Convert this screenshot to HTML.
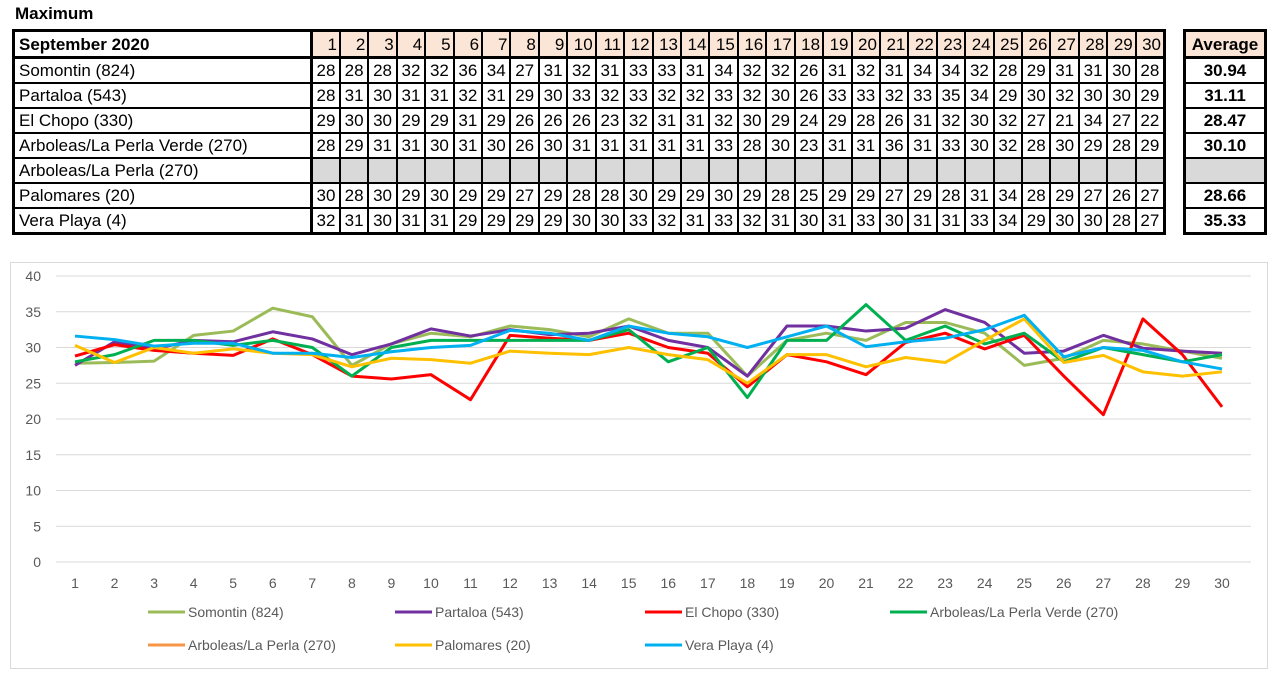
<!DOCTYPE html>
<html><head><meta charset="utf-8"><style>
body{margin:0;width:1280px;height:679px;background:#fff;font-family:"Liberation Sans",sans-serif;position:relative;overflow:hidden}
#title{position:absolute;left:15px;top:4px;font-weight:bold;font-size:17px}
table{position:absolute;border-collapse:collapse;table-layout:fixed;border:3px solid #000;font-size:17px}
td{border:2px solid #000;padding:0;height:23px;line-height:23px;text-align:center;overflow:hidden;white-space:nowrap}
td.lab{text-align:left;padding-left:4px;border-right:3px solid #000}
tr.hd td{background:#fbe5d6;height:24px;border-bottom:3px solid #000}
tr.hd td.lab{background:#fff;font-weight:bold}
td.na{background:#d9d9d9}
#avg td{font-weight:bold}
#chart{position:absolute;left:10px;top:262px;width:1256px;height:405px;border:1px solid #d9d9d9}
</style></head><body>
<div id="title">Maximum</div>
<table id="main" style="left:12px;top:29px;width:1154px"></table>
<table id="avg" style="left:1183px;top:29px;width:84px"></table>
<svg id="chart" width="1256" height="405"></svg>
<script>
const days=[];for(let i=1;i<=30;i++)days.push(i);
const names=["Somontin (824)","Partaloa (543)","El Chopo (330)","Arboleas/La Perla Verde (270)","Arboleas/La Perla (270)","Palomares (20)","Vera Playa (4)"];
const tableRows=[
"28 28 28 32 32 36 34 27 31 32 31 33 33 31 34 32 32 26 31 32 31 34 34 32 28 29 31 31 30 28",
"28 31 30 31 31 32 31 29 30 33 32 33 32 32 33 32 30 26 33 33 32 33 35 34 29 30 32 30 30 29",
"29 30 30 29 29 31 29 26 26 26 23 32 31 31 32 30 29 24 29 28 26 31 32 30 32 27 21 34 27 22",
"28 29 31 31 30 31 30 26 30 31 31 31 31 31 33 28 30 23 31 31 36 31 33 30 32 28 30 29 28 29",
"",
"30 28 30 29 30 29 29 27 29 28 28 30 29 29 30 29 28 25 29 29 27 29 28 31 34 28 29 27 26 27",
"32 31 30 31 31 29 29 29 29 30 30 33 32 31 33 32 31 30 31 33 30 31 31 33 34 29 30 30 28 27"];
const averages=["30.94","31.11","28.47","30.10","","28.66","35.33"];
const colors=["#9bbb59","#7030a0","#ff0000","#00b050","#f79646","#ffc000","#00b0f0"];
const sSomontin=[27.8,27.9,28.1,31.7,32.3,35.5,34.3,27.5,30.5,32,31.5,33,32.5,31.5,34,32,32,26,31,32,31,33.5,33.5,32,27.5,28.5,31,30.5,29.5,28.5];
const sPartaloa=[27.5,30.8,29.8,31,30.8,32.2,31.2,29,30.5,32.6,31.6,32.5,31.8,32,33,31,30,26,33,33,32.3,32.7,35.3,33.5,29.2,29.5,31.7,29.9,29.5,29.2];
const sChopo=[28.8,30.4,29.6,29.2,28.9,31.2,29,26,25.6,26.2,22.7,31.7,31.3,31,32,30,29.2,24.5,29,28,26.2,30.7,32,29.8,31.7,26,20.6,34,29,21.7];
const sVerde=[28,29,31,31,30.3,31,30,26,30,31,31,31,31,31,32.5,28,30,23,31,31,36,31,33,30.5,32,28,30,29,28,29];
const sPerla=[];
const sPalomares=[30.3,27.9,30,29.2,29.8,29.2,29,27.3,28.5,28.3,27.8,29.5,29.2,29,30,29,28.3,25,29,29,27.3,28.6,27.9,31,34,27.9,28.9,26.6,26,26.6];
const sVera=[31.6,31.1,30.2,30.6,30.6,29.2,29.2,28.6,29.4,30,30.3,32.4,32,31,33,32,31.5,30,31.5,33,30.1,30.8,31.3,32.5,34.5,28.7,30,29.6,28,27];
const series=[sSomontin,sPartaloa,sChopo,sVerde,sPerla,sPalomares,sVera];
const yTicks=[0,5,10,15,20,25,30,35,40];

const mt=document.getElementById('main'),at=document.getElementById('avg');
let cg='<colgroup><col style="width:298px">'+days.map(()=>'<col>').join('')+'</colgroup>';
let h='<tr class="hd"><td class="lab">September 2020</td>'+days.map(d=>'<td style="text-align:right;padding-right:2px">'+d+'</td>').join('')+'</tr>';
names.forEach((n,i)=>{const v=tableRows[i]?tableRows[i].split(' ').slice(0,30):null;
h+='<tr><td class="lab">'+n+'</td>'+days.map((d,j)=>v?'<td>'+v[j]+'</td>':'<td class="na"></td>').join('')+'</tr>';});
mt.innerHTML=cg+h;
let a='<tr class="hd"><td style="font-weight:bold">Average</td></tr>';
averages.forEach(v=>{a+=v?'<tr><td>'+v+'</td></tr>':'<tr><td class="na"></td></tr>';});
at.innerHTML=a;

const svg=document.getElementById('chart'),NS='http://www.w3.org/2000/svg';
const X0=75-11,XS=(1222-75)/29,Y0=562-263,YS=(562-276)/40;
const xs=d=>X0+(d-1)*XS, ys=v=>Y0-v*YS;
function mk(t,at){const e=document.createElementNS(NS,t);for(const k in at)e.setAttribute(k,at[k]);svg.appendChild(e);return e;}
yTicks.forEach(t=>{
 const g=mk('line',{x1:45,x2:1240,y1:ys(t),y2:ys(t),stroke:'#d9d9d9','stroke-width':1});
 
 
 const l=mk('text',{x:30,y:ys(t)+5,'text-anchor':'end','font-size':14,fill:'#595959','font-family':'Liberation Sans'});
 l.textContent=t;
 
 
});
days.forEach(d=>{const l=mk('text',{x:xs(d),y:325,'text-anchor':'middle','font-size':14,fill:'#595959','font-family':'Liberation Sans'});
 l.textContent=d;
 
 });
series.forEach((s,i)=>{if(!s.length)return;
 const p=mk('polyline',{points:s.map((v,j)=>xs(days[j])+','+ys(v)).join(' '),fill:'none',stroke:colors[i],'stroke-width':3,'stroke-linejoin':'round'});
 
 });
const legX=[137,384,634,879],legY=[349,382];
names.forEach((n,i)=>{const x=legX[i%4],y=legY[Math.floor(i/4)];
 const g=mk('g',{});
 
 
 const ln=document.createElementNS(NS,'line');ln.setAttribute('x1',x);ln.setAttribute('x2',x+37);ln.setAttribute('y1',y);ln.setAttribute('y2',y);ln.setAttribute('stroke',colors[i]);ln.setAttribute('stroke-width',3);g.appendChild(ln);
 const t=document.createElementNS(NS,'text');t.setAttribute('x',x+40);t.setAttribute('y',y+5);t.setAttribute('font-size',14);t.setAttribute('fill','#595959');t.setAttribute('font-family','Liberation Sans');t.textContent=n;g.appendChild(t);
});
</script>
</body></html>
